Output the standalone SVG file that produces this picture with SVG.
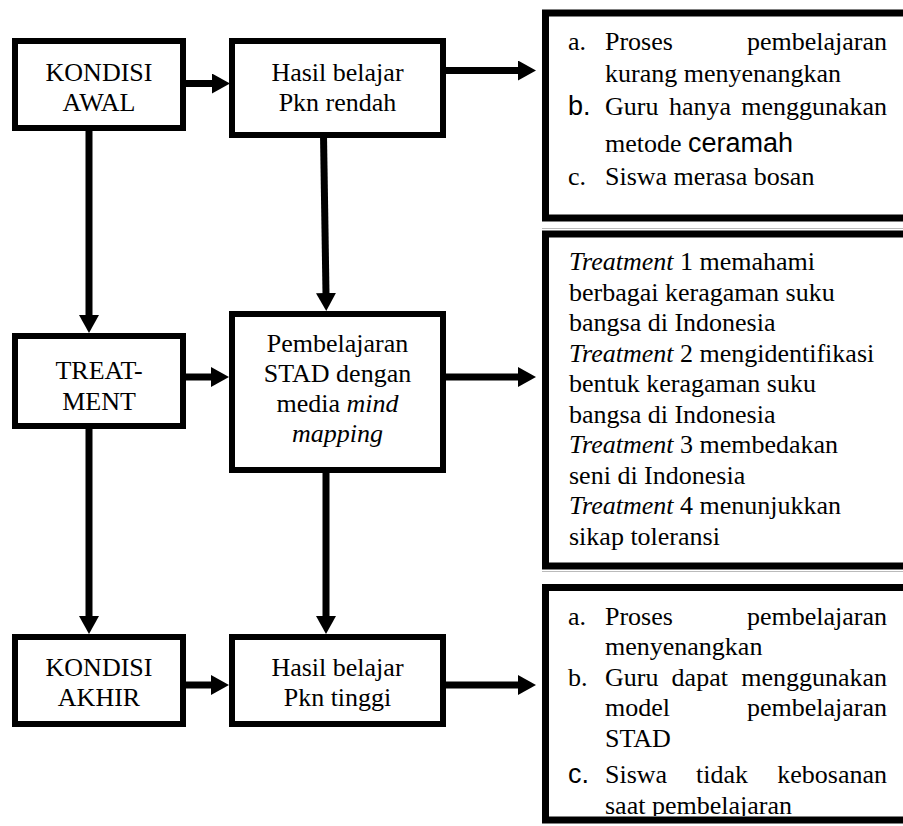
<svg xmlns="http://www.w3.org/2000/svg" width="903" height="826" viewBox="0 0 903 826">
<style>
.box{fill:#fff;stroke:#000;stroke-width:6}
.rbox{fill:#fff;stroke:#000;stroke-width:7}
.t{font-family:"Liberation Serif","Times New Roman",serif;font-size:26px;fill:#000}
.c{text-anchor:middle}
.e{text-anchor:end}
.i{font-style:italic}
.s{font-family:"Liberation Sans",Arial,sans-serif;font-size:27px}
.conn line{stroke:#000;stroke-width:7}
.faint{stroke:#bbb;stroke-width:1}
</style>
<defs>
<marker id="ah" markerUnits="userSpaceOnUse" markerWidth="18" markerHeight="20" refX="1" refY="10" orient="auto">
<path d="M0,0 L18,10 L0,20 z" fill="#000"/>
</marker>
<clipPath id="clipBottom"><rect x="548" y="591" width="360" height="225"/></clipPath>
</defs>
<rect width="903" height="826" fill="#fff"/>
<g id="connectors" class="conn">
<line x1="183" y1="83.5" x2="213" y2="83.5" marker-end="url(#ah)"/>
<line x1="443" y1="70.5" x2="519" y2="70.5" marker-end="url(#ah)"/>
<line x1="89" y1="128" x2="89" y2="316" marker-end="url(#ah)"/>
<line x1="323.5" y1="135" x2="326" y2="294" marker-end="url(#ah)"/>
<line x1="183" y1="377" x2="212" y2="377" marker-end="url(#ah)"/>
<line x1="443" y1="377" x2="519" y2="377" marker-end="url(#ah)"/>
<line x1="89" y1="426" x2="89" y2="617" marker-end="url(#ah)"/>
<line x1="326" y1="470" x2="326" y2="617" marker-end="url(#ah)"/>
<line x1="183" y1="685" x2="212" y2="685" marker-end="url(#ah)"/>
<line x1="443" y1="685" x2="519" y2="685" marker-end="url(#ah)"/>
</g>
<line class="faint" x1="542" y1="228.5" x2="903" y2="228.5"/>
<line class="faint" x1="542" y1="571.5" x2="903" y2="571.5"/>
<g id="kondisi-awal">
<rect class="box" x="15" y="41" width="168" height="87"/>
<text class="t c" x="99" y="81">KONDISI</text>
<text class="t c" x="99" y="111">AWAL</text>
</g>
<g id="hasil-rendah">
<rect class="box" x="232" y="41" width="211" height="94"/>
<text class="t c" x="337.5" y="81">Hasil belajar</text>
<text class="t c" x="337.5" y="111">Pkn rendah</text>
</g>
<g id="kondisi-awal-detail">
<rect class="rbox" x="545.5" y="13" width="370" height="205"/>
<text class="t" x="568" y="50">a.</text>
<text class="t" x="605" y="50">Proses</text>
<text class="t e" x="887" y="50">pembelajaran</text>
<text class="t" x="605" y="82">kurang menyenangkan</text>
<text class="t s" x="568" y="115">b.</text>
<text class="t" x="605" y="115">Guru</text>
<text class="t" x="669" y="115">hanya</text>
<text class="t e" x="887" y="115">menggunakan</text>
<text class="t" x="605" y="152">metode <tspan class="s">ceramah</tspan></text>
<text class="t" x="568" y="185">c.</text>
<text class="t" x="605" y="185">Siswa merasa bosan</text>
</g>
<g id="treatment">
<rect class="box" x="15" y="336" width="168" height="90"/>
<text class="t c" x="99" y="379">TREAT-</text>
<text class="t c" x="99" y="410">MENT</text>
</g>
<g id="pembelajaran-stad">
<rect class="box" x="232" y="314" width="211" height="156"/>
<text class="t c" x="337.5" y="352">Pembelajaran</text>
<text class="t c" x="337.5" y="382">STAD dengan</text>
<text class="t c" x="337.5" y="412">media <tspan class="i">mind</tspan></text>
<text class="t c i" x="337.5" y="442">mapping</text>
</g>
<g id="treatment-detail">
<rect class="rbox" x="545.5" y="234" width="370" height="332"/>
<text class="t" x="569" y="270"><tspan class="i">Treatment</tspan> 1 memahami</text>
<text class="t" x="569" y="300.5">berbagai keragaman suku</text>
<text class="t" x="569" y="331">bangsa di Indonesia</text>
<text class="t" x="569" y="361.5"><tspan class="i">Treatment</tspan> 2 mengidentifikasi</text>
<text class="t" x="569" y="392">bentuk keragaman suku</text>
<text class="t" x="569" y="422.5">bangsa di Indonesia</text>
<text class="t" x="569" y="453"><tspan class="i">Treatment</tspan> 3 membedakan</text>
<text class="t" x="569" y="483.5">seni di Indonesia</text>
<text class="t" x="569" y="514"><tspan class="i">Treatment</tspan> 4 menunjukkan</text>
<text class="t" x="569" y="544.5">sikap toleransi</text>
</g>
<g id="kondisi-akhir">
<rect class="box" x="15" y="637" width="168" height="87"/>
<text class="t c" x="99" y="676">KONDISI</text>
<text class="t c" x="99" y="706">AKHIR</text>
</g>
<g id="hasil-tinggi">
<rect class="box" x="232" y="637" width="211" height="87"/>
<text class="t c" x="337.5" y="676">Hasil belajar</text>
<text class="t c" x="337.5" y="706">Pkn tinggi</text>
</g>
<g id="kondisi-akhir-detail">
<rect class="rbox" x="545.5" y="587.5" width="370" height="232.5"/>
<g clip-path="url(#clipBottom)">
<text class="t" x="568" y="625">a.</text>
<text class="t" x="605" y="625">Proses</text>
<text class="t e" x="887" y="625">pembelajaran</text>
<text class="t" x="605" y="655">menyenangkan</text>
<text class="t" x="568" y="686">b.</text>
<text class="t" x="605" y="686">Guru</text>
<text class="t" x="671.6" y="686">dapat</text>
<text class="t e" x="887" y="686">menggunakan</text>
<text class="t" x="605" y="716">model</text>
<text class="t e" x="887" y="716">pembelajaran</text>
<text class="t" x="605" y="747">STAD</text>
<text class="t s" x="568" y="783">c.</text>
<text class="t" x="605" y="783">Siswa</text>
<text class="t" x="696" y="783">tidak</text>
<text class="t e" x="887" y="783">kebosanan</text>
<text class="t" x="605" y="814">saat pembelajaran</text>
</g>
</g>
</svg>
